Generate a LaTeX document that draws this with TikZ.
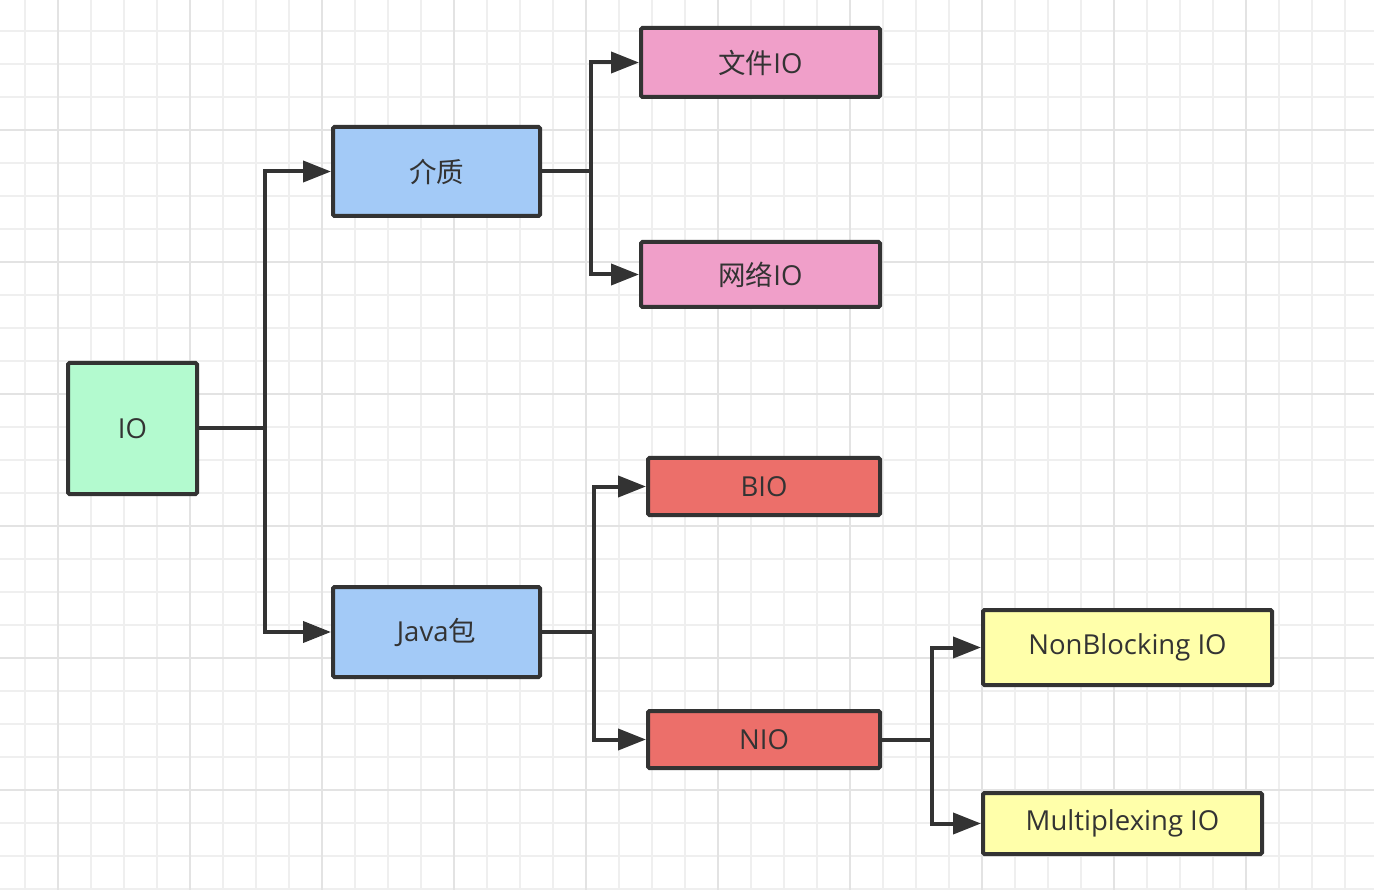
\documentclass[tikz,border=0pt]{standalone}
\usepackage{fontspec}
\setmainfont{Open Sans}
\newfontfamily\cjk{Noto Sans CJK SC}
\usetikzlibrary{arrows.meta}
\definecolor{ink}{HTML}{333333}
\definecolor{gridminor}{HTML}{EFEFEF}
\definecolor{gridmajor}{HTML}{E3E3E3}
\definecolor{fgreen}{HTML}{B3FACF}
\definecolor{fblue}{HTML}{A3CAF7}
\definecolor{fpink}{HTML}{F09FC9}
\definecolor{fred}{HTML}{EC6F6A}
\definecolor{fyellow}{HTML}{FFFFAA}
\tikzset{
  box/.style={draw=ink, line width=4pt, rounded corners=1.5pt, inner sep=0pt,
    text=ink, font=\fontsize{27.5}{31}\selectfont},
  conn/.style={draw=ink, line width=4pt, line join=miter,
    -{Triangle[length=28pt,width=21pt]}},
  plain/.style={draw=ink, line width=4pt, line join=miter},
}
\begin{document}
\begin{tikzpicture}[x=1pt,y=-1pt]
\useasboundingbox (0,0) rectangle (1374,890);
\fill[white] (0,0) rectangle (1374,890);
% grid
\foreach \i in {0,...,41} {
  \pgfmathsetmacro\xx{25+33*\i}
  \draw[gridminor, line width=1.5pt] (\xx,0) -- (\xx,890);
}
\foreach \i in {0,...,27} {
  \pgfmathsetmacro\yy{-2+33*\i}
  \draw[gridminor, line width=1.5pt] (0,\yy) -- (1374,\yy);
}
\foreach \i in {0,...,10} {
  \pgfmathsetmacro\xx{58+132*\i}
  \draw[gridmajor, line width=2pt] (\xx,0) -- (\xx,890);
}
\foreach \i in {0,...,6} {
  \pgfmathsetmacro\yy{-2+132*\i}
  \draw[gridmajor, line width=2pt] (0,\yy) -- (1374,\yy);
}
% nodes
\node[box, fill=fgreen, minimum width=129pt, minimum height=131pt] (io) at (132.5,428.5) {IO};
\node[box, fill=fblue, minimum width=207pt, minimum height=89pt] (med) at (436.5,171.5) {\cjk 介质};
\node[box, fill=fblue, minimum width=207pt, minimum height=90pt] (java) at (436.5,632) {Java{\cjk 包}};
\node[box, fill=fpink, minimum width=239pt, minimum height=69pt] (file) at (760.5,62.5) {{\cjk 文件}IO};
\node[box, fill=fpink, minimum width=239pt, minimum height=65pt] (net) at (760.5,274.5) {{\cjk 网络}IO};
\node[box, fill=fred, minimum width=232pt, minimum height=57pt] (bio) at (764,486.5) {BIO};
\node[box, fill=fred, minimum width=232pt, minimum height=57pt] (nio) at (764,739.5) {NIO};
\node[box, fill=fyellow, minimum width=289pt, minimum height=75pt] (nb) at (1127.5,647.5) {NonBlocking IO};
\node[box, fill=fyellow, minimum width=279pt, minimum height=61pt] (mp) at (1122.5,823.5) {Multiplexing IO};
% junctions
\coordinate (j1) at (265,428.5);
\coordinate (j2) at (591,171.5);
\coordinate (j3) at (594,632);
\coordinate (j4) at (932,739.5);
% connectors
\draw[plain] (io.east) -- (j1);
\draw[conn] (j1) |- (med.west);
\draw[conn] (j1) |- (java.west);
\draw[plain] (med.east) -- (j2);
\draw[conn] (j2) |- (file.west);
\draw[conn] (j2) |- (net.west);
\draw[plain] (java.east) -- (j3);
\draw[conn] (j3) |- (bio.west);
\draw[conn] (j3) |- (nio.west);
\draw[plain] (nio.east) -- (j4);
\draw[conn] (j4) |- (nb.west);
\draw[conn] (j4) |- (mp.west);
\end{tikzpicture}
\end{document}
